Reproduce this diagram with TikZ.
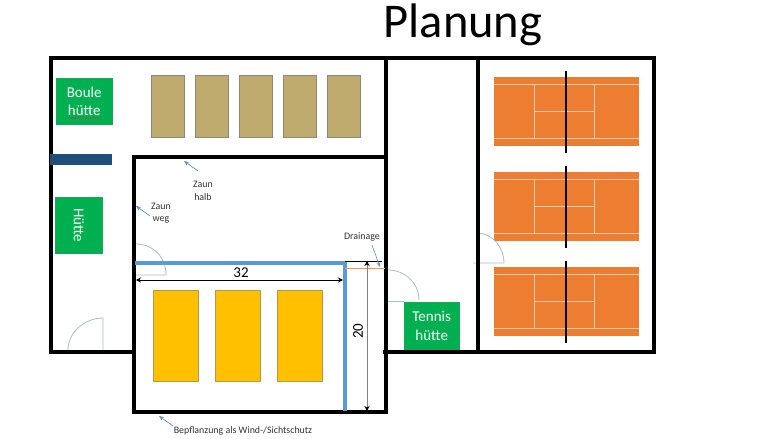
\documentclass[tikz,border=0pt]{standalone}
\usepackage{fontspec}
\setmainfont{Carlito}
\usetikzlibrary{arrows.meta,decorations.pathmorphing}
\definecolor{hutgreen}{HTML}{00B050}
\definecolor{barblue}{HTML}{1F4E79}
\definecolor{sandbox}{HTML}{BFAB6E}
\definecolor{boccia}{HTML}{FFC000}
\definecolor{clay}{HTML}{ED7D31}
\definecolor{clayline}{HTML}{F8CBAD}
\definecolor{fence}{HTML}{5B9BD5}
\definecolor{doorc}{HTML}{A9BCCB}
\tikzset{%
    wall/.style={line width = 4.4pt, line cap=rect},
    door/.style={line width = 0.8pt, color=doorc},
    hut/.style={rectangle, fill=hutgreen, draw=hutgreen!80!gray, text=white, inner sep=0pt, font=\fontsize{15}{18.5}\selectfont, align=center, anchor=north west},
    bed/.style={rectangle, fill=sandbox, draw=gray!80!sandbox, line width=0.6pt},
    pit/.style={rectangle, fill=boccia, draw=gray!60!boccia, line width=0.6pt},
    cline/.style={line width = 0.8pt, color=clayline},
    note/.style={font=\fontsize{9.9}{12.5}\selectfont, text=black!80, align=center, inner sep=0pt},
    lead/.style={line width = 0.7pt, color=fence!70!gray, -{Stealth[length=5pt,width=4pt]}},
    dim/.style={line width = 0.7pt, {Stealth[length=5pt,width=5pt]}-{Stealth[length=5pt,width=5pt]}},
}
\begin{document}
\begin{tikzpicture}[x=1pt,y=-1pt]
    \useasboundingbox (0,0) rectangle (780,439);
    \node (title) at (463,24.5) {\fontsize{48.5}{58}\selectfont Planung};
    % beds
    \foreach \x in {151,195,239,283,327}
        \draw [bed](\x,75) rectangle +(33,62);
    \foreach \x in {153,215,277}
        \draw [pit](\x,290) rectangle +(45,91);
    % courts
    \foreach \y in {77,172,267}{
        \fill [clay](494,\y) rectangle +(145,69);
        \draw [cline](494,\y+7) -- (639,\y+7) (494,\y+61) -- (639,\y+61);
        \draw [cline](534,\y+7) -- (534,\y+61) (594,\y+7) -- (594,\y+61) (534,\y+34) -- (594,\y+34);
        \draw [line width=1.2pt](566,\y-6) -- (566,\y+76);
    }
    % doors
    \draw [door](136,244) .. controls (153,244) and (166,257) .. (166,275) -- (135,275);
    \draw [door](103,350) -- (103,318) .. controls (84,318) and (68,333) .. (68,350);
    \draw [door](388,270) .. controls (405,270) and (419,283) .. (419,300);
    \draw [door](388,301) -- (404,301);
    \draw [door](477,233) .. controls (492,233) and (504,247) .. (504,263) -- (473,263);
    % walls
    \draw [wall](51,352) -- (51,58) -- (654,58) -- (654,352) -- (385,352);
    \draw [wall](51,352) -- (134,352);
    \draw [wall](134,157) -- (386,157);
    \draw [wall](134,412) -- (134,157);
    \draw [wall](134,412) -- (386,412) -- (386,58);
    \draw [wall](478,58) -- (478,352);
    % huts
    \node [hut, minimum width=56pt, minimum height=46pt] (boule) at (56,78) {Boule\\hütte};
    \draw [red!60!gray, line width=0.3pt, decorate, decoration={snake,amplitude=0.4pt,segment length=2pt}] (68,118) -- (100,118);
    \fill [barblue](50,153.5) rectangle (112,165);
    \node [hut, minimum width=47pt, minimum height=56pt] (huette) at (55,197) {};
    \node [text=white, rotate=-90, font=\fontsize{15}{18}\selectfont, inner sep=0pt] (huettetxt) at (huette.center) {Hütte};
    \node [hut, minimum width=55pt, minimum height=47pt] (tennis) at (404,302) {Tennis\\hütte};
    % fence and measures
    \draw [line width=4pt, color=fence](135,262.5) -- (345,262.5);
    \draw [line width=4pt, color=fence](345,260.5) -- (345,411);
    \draw [line width=0.5pt](345,261) -- (382,261);
    \draw [line width=1pt, color=clay!80!white](345,268) -- (385,268);
    \draw [dim](136,280) -- (343,280);
    \draw [dim, draw=black!50, line width=1pt, {Stealth[length=5pt,width=5pt,black]}-{Stealth[length=5pt,width=5pt,black]}](367,261) -- (367,411);
    \node (lenlab) at (241,272.5) {\fontsize{15}{17}\selectfont 32};
    \node [rotate=90] (widlab) at (358,331) {\fontsize{15}{17}\selectfont 20};
    % notes
    \node [note] (halb) at (203,191) {Zaun\\halb};
    \node [note] (weg) at (161,213) {Zaun\\weg};
    \node [note] (drain) at (362,237) {Drainage};
    \node [note] (plant) at (243,431) {Bepflanzung als Wind-/Sichtschutz};
    \coordinate (halbend) at (184,161);
    \coordinate (wegend) at (136,206);
    \coordinate (drainend) at (380,267);
    \coordinate (plantend) at (159,416);
    \draw [lead](198,171) -- (halbend);
    \draw [lead](150,216) -- (wegend);
    \draw [lead](372,245) -- (drainend);
    \draw [lead](173,426) -- (plantend);
\end{tikzpicture}
\end{document}
